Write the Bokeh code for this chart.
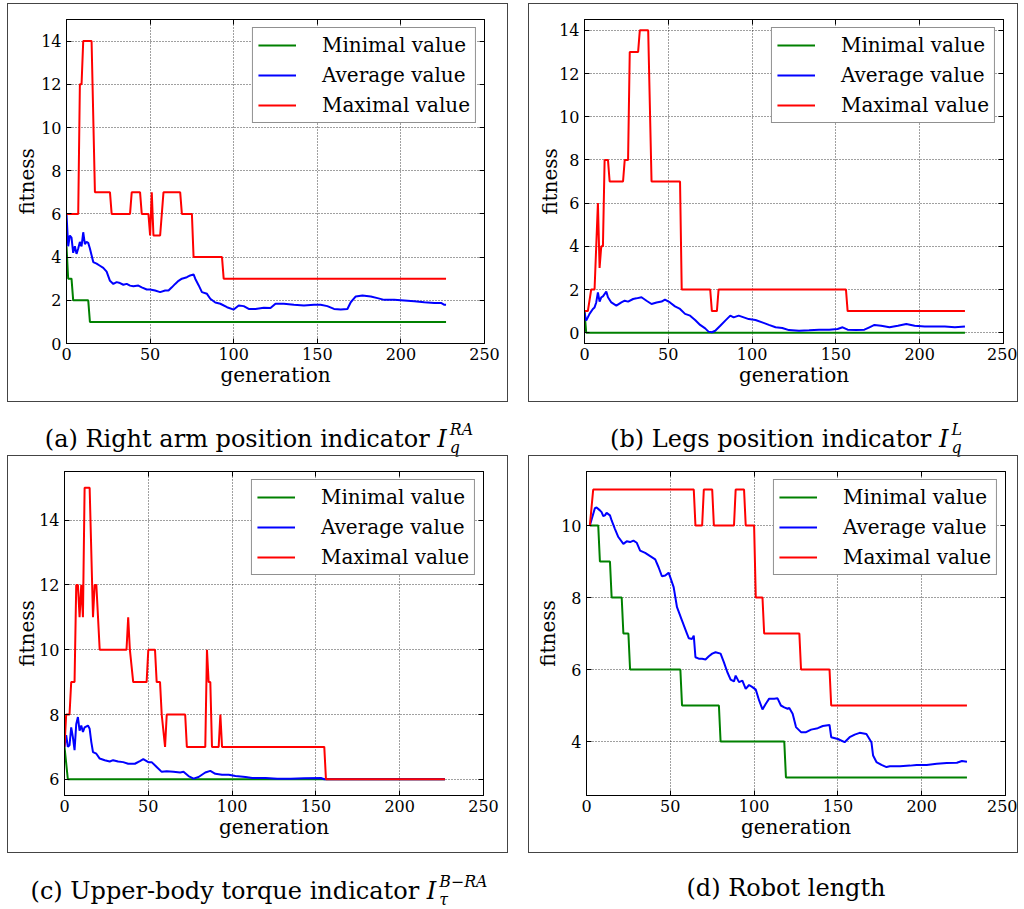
from bokeh.plotting import figure
from bokeh.layouts import column, row
from bokeh.models import Div, Spacer, FixedTicker, LinearAxis, Range1d
from bokeh.embed import file_html
from bokeh.resources import INLINE

# ---------------- data ----------------
GEN_TICKS = [0, 50, 100, 150, 200, 250]
LABELS = ["Minimal value", "Average value", "Maximal value"]

# (a) Right arm position indicator
a_min_gen = [0, 1, 3, 4, 13, 14, 227]
a_min = [4.5, 3, 3, 2, 2, 1, 1]
a_avg_gen = [0, 1, 2, 3, 4, 5, 6, 7, 8, 9, 10, 11, 12, 13, 14, 16, 18, 20, 22, 24, 26, 28, 30, 32, 34, 36, 38, 40,
             43, 45, 48, 50, 53, 56, 59, 61, 63, 65, 67, 69, 72, 74, 76, 77, 79, 81, 84, 86, 89, 92, 96, 100, 103,
             106, 109, 113, 118, 122, 125, 130, 136, 142, 148, 152, 156, 160, 164, 168, 170, 173, 177, 182, 186,
             190, 196, 202, 208, 214, 220, 224, 226, 227]
a_avg = [6.0, 4.5, 5.0, 4.9, 4.2, 4.5, 4.15, 4.4, 4.7, 4.5, 5.15, 4.6, 4.7, 4.66, 4.4, 3.77, 3.7, 3.6, 3.5, 3.33,
         2.9, 2.76, 2.84, 2.8, 2.72, 2.76, 2.68, 2.65, 2.68, 2.6, 2.5, 2.5, 2.45, 2.38, 2.45, 2.45, 2.6, 2.76, 2.9,
         3.0, 3.07, 3.15, 3.2, 3.0, 2.7, 2.38, 2.3, 2.07, 1.9, 1.84, 1.68, 1.57, 1.76, 1.73, 1.6, 1.6, 1.65, 1.64,
         1.84, 1.84, 1.79, 1.76, 1.79, 1.79, 1.73, 1.6, 1.57, 1.6, 1.91, 2.18, 2.22, 2.18, 2.1, 2.02, 2.02, 1.99,
         1.96, 1.91, 1.88, 1.88, 1.79, 1.79]
a_max_gen = [0, 7, 8, 9, 10, 15, 17, 26, 27, 38, 39, 44, 45, 49, 50, 51, 52, 56, 58, 68, 69, 75, 76, 93, 94, 227]
a_max = [6, 6, 12, 12, 14, 14, 7, 7, 6, 6, 7, 7, 6, 6, 5, 7, 5, 5, 7, 7, 6, 6, 4, 4, 3, 3]

# (b) Legs position indicator
b_min_gen = [0, 1, 227]
b_min = [1, 0, 0]
b_avg_gen = [0, 1, 2, 3, 5, 6, 7, 8, 9, 10, 11, 13, 14, 16, 19, 22, 24, 26, 29, 31, 34, 37, 40, 43, 46, 48, 51,
             54, 57, 60, 63, 66, 69, 72, 74, 76, 78, 81, 84, 87, 89, 92, 95, 98, 102, 106, 110, 114, 118, 122, 128,
             134, 140, 146, 151, 154, 157, 162, 167, 170, 173, 177, 182, 187, 192, 197, 203, 209, 215, 221, 227]
b_avg = [0.94, 0.56, 0.71, 0.87, 1.1, 1.17, 1.4, 1.87, 1.44, 1.64, 1.68, 1.9, 1.64, 1.4, 1.25, 1.4, 1.48, 1.44,
         1.56, 1.59, 1.64, 1.48, 1.33, 1.4, 1.44, 1.53, 1.4, 1.22, 1.1, 0.87, 0.79, 0.59, 0.36, 0.2, 0.05, 0.02,
         0.09, 0.32, 0.56, 0.79, 0.71, 0.79, 0.71, 0.63, 0.59, 0.48, 0.36, 0.25, 0.22, 0.12, 0.09, 0.11, 0.14, 0.14,
         0.17, 0.25, 0.14, 0.12, 0.14, 0.25, 0.36, 0.32, 0.25, 0.32, 0.4, 0.32, 0.29, 0.29, 0.29, 0.25, 0.29]
b_max_gen = [0, 2, 4, 6, 8, 9, 10, 11, 12, 14, 15, 23, 24, 26, 27, 32, 33, 38, 40, 57, 58, 75, 76, 79, 80, 156,
             157, 227]
b_max = [1, 1, 2, 2, 6, 3, 4, 4, 8, 8, 7, 7, 8, 8, 13, 13, 14, 14, 7, 7, 2, 2, 1, 1, 2, 2, 1, 1]

# (c) Upper-body torque indicator
c_min_gen = [0, 2, 227]
c_min = [7, 6, 6]
c_avg_gen = [0, 1, 2, 3, 4, 5, 6, 7, 8, 9, 10, 11, 12, 14, 15, 16, 17, 19, 21, 24, 27, 29, 32, 35, 38, 42, 45,
             47, 50, 52, 55, 58, 61, 65, 69, 71, 74, 77, 80, 84, 87, 90, 94, 98, 102, 108, 112, 120, 127, 135, 143,
             153, 155, 227]
c_avg = [7.0, 7.36, 7.0, 7.05, 7.6, 7.3, 6.9, 7.7, 7.92, 7.5, 7.66, 7.46, 7.6, 7.66, 7.56, 7.15, 6.84, 6.79,
         6.64, 6.59, 6.55, 6.59, 6.55, 6.53, 6.48, 6.48, 6.56, 6.62, 6.53, 6.53, 6.38, 6.23, 6.25, 6.23, 6.21,
         6.23, 6.1, 6.02, 6.07, 6.21, 6.26, 6.17, 6.14, 6.14, 6.1, 6.07, 6.04, 6.04, 6.02, 6.02, 6.03, 6.04, 6.0,
         6.0]
c_max_gen = [0, 1, 3, 4, 6, 7, 8, 9, 10, 11, 12, 15, 17, 18, 19, 21, 37, 38, 39, 41, 49, 50, 54, 55, 57, 58, 60,
             61, 72, 73, 84, 85, 86, 87, 88, 92, 93, 94, 155, 156, 227]
c_max = [7, 8, 8, 9, 9, 12, 12, 11, 12, 11, 15, 15, 11, 12, 12, 10, 10, 11, 10, 9, 9, 10, 10, 9, 9, 8, 7,
         8, 8, 7, 7, 10, 9, 9, 7, 7, 8, 7, 7, 6, 6]

# (d) Robot length
d_min_gen = [2, 7, 8, 14, 15, 21, 22, 25, 26, 56, 57, 79, 80, 118, 119, 227]
d_min = [10, 10, 9, 9, 8, 8, 7, 7, 6, 6, 5, 5, 4, 4, 3, 3]
d_avg_gen = [2, 5, 6, 8, 9, 10, 11, 12, 14, 15, 17, 19, 22, 24, 26, 28, 30, 32, 35, 38, 41, 43, 45, 47, 49, 50,
             52, 54, 57, 60, 61, 63, 64, 65, 67, 69, 71, 73, 75, 77, 80, 82, 84, 86, 88, 89, 91, 93, 95, 97, 99,
             101, 103, 105, 107, 109, 112, 114, 116, 118, 120, 121, 123, 125, 128, 131, 134, 138, 141, 145, 146,
             150, 154, 157, 160, 163, 167, 170, 171, 173, 176, 179, 181, 187, 193, 197, 203, 209, 215, 221, 224,
             227]
d_avg = [10.0, 10.48, 10.5, 10.42, 10.37, 10.26, 10.28, 10.35, 10.28, 10.14, 9.9, 9.68, 9.49, 9.56, 9.54, 9.58,
         9.52, 9.3, 9.24, 9.15, 9.06, 8.84, 8.59, 8.61, 8.69, 8.56, 8.29, 7.73, 7.36, 6.99, 6.87, 6.85, 6.94, 6.34,
         6.3, 6.3, 6.28, 6.37, 6.44, 6.48, 6.44, 6.2, 5.93, 5.72, 5.67, 5.83, 5.65, 5.69, 5.46, 5.57, 5.51, 5.44,
         5.14, 4.89, 5.05, 5.19, 5.19, 5.2, 5.0, 4.95, 4.91, 4.93, 4.77, 4.4, 4.26, 4.26, 4.33, 4.37, 4.43, 4.46,
         4.12, 4.07, 3.98, 4.12, 4.19, 4.24, 4.21, 3.98, 3.61, 3.43, 3.35, 3.29, 3.31, 3.31, 3.33, 3.35, 3.35,
         3.38, 3.4, 3.41, 3.46, 3.44]
d_max_gen = [2, 4, 64, 65, 69, 70, 75, 76, 88, 89, 94, 95, 100, 101, 105, 106, 127, 128, 145, 146, 227]
d_max = [10, 11, 11, 10, 10, 11, 11, 10, 10, 11, 11, 10, 10, 8, 8, 7, 7, 6, 6, 5, 5]

# ---------------- styling ----------------
FONT = "'DejaVu Serif', serif"
COLORS = ["#008000", "#0000ff", "#ff0000"]


def make_panel(series, yr, yticks, w, h, ml, mr, mt, mb, ylab_standoff):
    p = figure(width=w, height=h, output_backend="svg", toolbar_location=None,
               x_range=Range1d(0, 250), y_range=Range1d(*yr),
               min_border_left=ml, min_border_right=mr, min_border_top=mt, min_border_bottom=mb,
               background_fill_color="white", border_fill_color="white")
    p.styles = {"border": "1px solid #444"}
    p.outline_line_color = "black"
    p.outline_line_width = 1
    xt = FixedTicker(ticks=GEN_TICKS)
    yt = FixedTicker(ticks=yticks)
    p.xaxis.ticker = xt
    p.yaxis.ticker = yt
    for ax in (p.xaxis[0], p.yaxis[0]):
        ax.major_label_text_font = FONT
        ax.major_label_text_font_size = "16px"
        ax.major_label_text_color = "black"
        ax.axis_label_text_font = FONT
        ax.axis_label_text_font_size = "20px"
        ax.axis_label_text_font_style = "normal"
        ax.axis_label_text_color = "black"
        ax.major_tick_in = 5
        ax.major_tick_out = 0
        ax.minor_tick_in = 0
        ax.minor_tick_out = 0
        ax.axis_line_color = "black"
        ax.major_tick_line_color = "black"
    p.xaxis.axis_label = "generation"
    p.yaxis.axis_label = "fitness"
    p.xaxis.major_label_standoff = 4
    p.xaxis.axis_label_standoff = 0
    p.yaxis.major_label_standoff = 5
    p.yaxis.axis_label_standoff = ylab_standoff
    # mirrored ticks on top and right (no labels drawn)
    for loc, tk in (("above", xt), ("right", yt)):
        ax = LinearAxis(ticker=tk, major_label_text_font_size="2px", major_label_text_alpha=0,
                        major_label_text_color=None, major_tick_in=5, major_tick_out=0,
                        minor_tick_in=0, minor_tick_out=0, axis_line_color="black",
                        major_tick_line_color="black", major_label_standoff=0)
        p.add_layout(ax, loc)
    for g in (p.xgrid[0], p.ygrid[0]):
        g.grid_line_color = "black"
        g.grid_line_alpha = 0.75
        g.grid_line_dash = "1 2"
        g.grid_line_width = 1
    for (gx, gy), lab, col in zip(series, LABELS, COLORS):
        p.line(gx, gy, line_color=col, line_width=2, legend_label=lab)
    lg = p.legend[0]
    lg.location = "top_right"
    lg.margin = 8
    lg.padding = 5
    lg.spacing = 6
    lg.label_height = 22
    lg.glyph_height = 22
    lg.glyph_width = 38
    lg.label_standoff = 26
    lg.label_text_font = FONT
    lg.label_text_font_size = "20px"
    lg.label_text_color = "black"
    lg.border_line_color = "#222"
    lg.border_line_width = 1
    lg.background_fill_alpha = 1
    return p


fa = make_panel([(a_min_gen, a_min), (a_avg_gen, a_avg), (a_max_gen, a_max)],
                (0, 15), [0, 2, 4, 6, 8, 10, 12, 14], 501, 399, 58, 25, 15, 60, -1)
fb = make_panel([(b_min_gen, b_min), (b_avg_gen, b_avg), (b_max_gen, b_max)],
                (-0.5, 14.5), [0, 2, 4, 6, 8, 10, 12, 14], 490, 399, 55, 16, 15, 60, -6)
fc = make_panel([(c_min_gen, c_min), (c_avg_gen, c_avg), (c_max_gen, c_max)],
                (5.5, 15.5), [6, 8, 10, 12, 14], 501, 398, 56, 26, 15, 59, -3)
fd = make_panel([(d_min_gen, d_min), (d_avg_gen, d_avg), (d_max_gen, d_max)],
                (2.5, 11.5), [4, 6, 8, 10], 490, 398, 57, 14, 15, 59, -2)

CAP_STYLE = "font-family:'DejaVu Serif',serif;font-size:24px;color:black;text-align:center;white-space:nowrap;"


def stack(sup, sub):
    return ('<span style="display:inline-block;vertical-align:-0.36em;line-height:1.12;font-size:0.66em;'
            'text-align:left;margin-left:3px"><i>%s</i><br><i>%s</i></span>' % (sup, sub))


def caption(html, w, h, inner_w, inner_ml, pad_top, lh):
    txt = ('<div style="%swidth:%dpx;margin-left:%dpx;padding-top:%dpx;line-height:%dpx;">%s</div>'
           % (CAP_STYLE, inner_w, inner_ml, pad_top, lh, html))
    return Div(text=txt, width=w, height=h, margin=(0, 0, 0, 0))


capA = caption("(a) Right arm position indicator <i>I</i>" + stack("RA", "q"), 523, 53, 490, 7, 19, 30)
capB = caption("(b) Legs position indicator <i>I</i>" + stack("L", "q"), 492, 53, 460, 26, 19, 30)
capC = caption("(c) Upper-body torque indicator <i>I</i>" + stack("B&minus;RA", "&tau;"), 523, 50, 490, 7, 20, 30)
capD = caption("(d) Robot length", 492, 50, 460, 26, 20, 30)

root = column(
    row(fa, Spacer(width=20, height=10), fb),
    row(capA, capB),
    row(fc, Spacer(width=20, height=10), fd),
    row(capC, capD),
    styles={"margin-top": "3px", "margin-left": "7px"},
)

open("out.html", "w").write(file_html(root, INLINE))
